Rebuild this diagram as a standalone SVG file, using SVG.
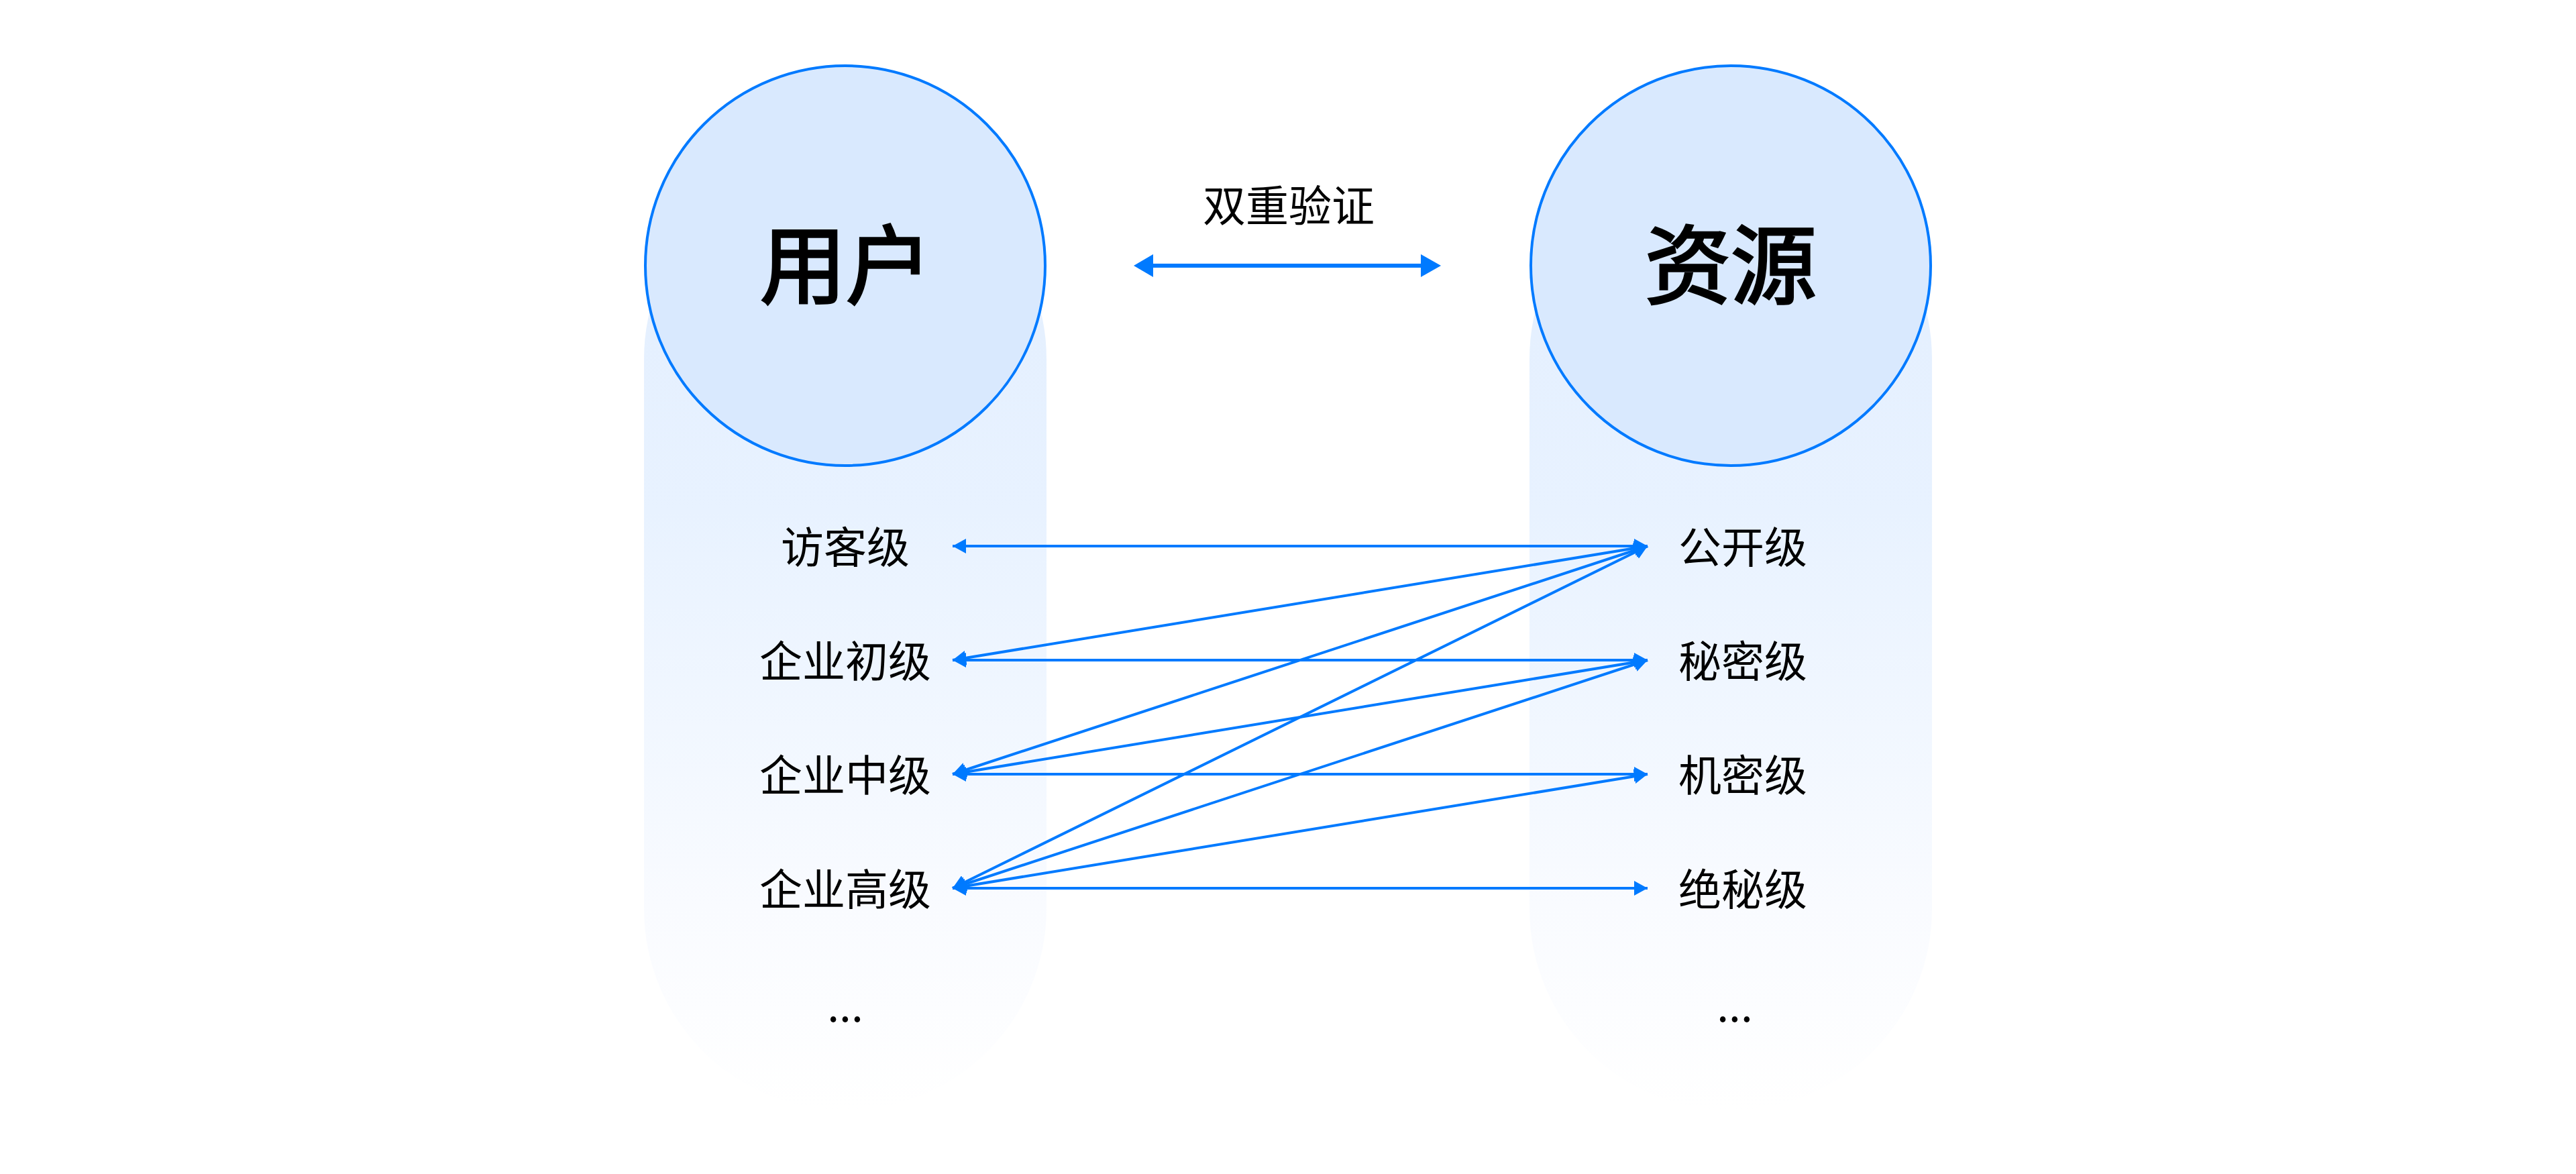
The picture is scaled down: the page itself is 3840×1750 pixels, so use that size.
<svg xmlns="http://www.w3.org/2000/svg" width="3840" height="1750" viewBox="0 0 3840 1750">
<style>
text{font-family:"Noto Sans CJK SC","Noto Sans",sans-serif;fill:#000;text-anchor:middle}
.t{font-size:64px}
.h{font-size:128px;font-weight:400;stroke:#000;stroke-width:3.5}
.c{fill:#d9e9fe;stroke:#007aff;stroke-width:4}
.l{stroke:#007aff;stroke-width:4;fill:none;marker-start:url(#as);marker-end:url(#ae)}
.m{stroke:#007aff;stroke-width:6;fill:none}
</style>
<defs>
<linearGradient id="g" gradientUnits="userSpaceOnUse" x1="0" y1="235" x2="0" y2="1655"><stop offset="0" stop-color="#e2eefe"/><stop offset="0.37" stop-color="#e8f2ff"/><stop offset="0.645" stop-color="#f3f8ff"/><stop offset="0.785" stop-color="#f9fbff"/><stop offset="1" stop-color="#fff"/></linearGradient>
<marker id="ae" markerUnits="userSpaceOnUse" markerWidth="20" markerHeight="22" refX="20" refY="11" orient="auto"><path d="M0 0L20 11L0 22Z" fill="#007aff"/></marker>
<marker id="as" markerUnits="userSpaceOnUse" markerWidth="20" markerHeight="22" refX="0" refY="11" orient="auto"><path d="M20 0L0 11L20 22Z" fill="#007aff"/></marker>
</defs>
<rect width="3840" height="1750" fill="#fff"/>
<g id="user-column">
<rect x="960" y="235" width="600" height="1420" rx="300" fill="url(#g)"/>
<circle class="c" cx="1260" cy="396" r="298"/>
<text class="h" x="1261" y="443">用户</text>
</g>
<g id="resource-column">
<rect x="2280" y="235" width="600" height="1420" rx="300" fill="url(#g)"/>
<circle class="c" cx="2580" cy="396" r="298"/>
<text class="h" x="2580" y="443">资源</text>
</g>
<g id="verify"><text class="t" x="1921" y="330">双重验证</text></g>
<g id="user-levels">
<text class="t" x="1260" y="839">访客级</text>
<text class="t" x="1260" y="1009">企业初级</text>
<text class="t" x="1260" y="1179">企业中级</text>
<text class="t" x="1260" y="1349">企业高级</text>
<text class="t" x="1260" y="1523">...</text>
</g>
<g id="resource-levels">
<text class="t" x="2598" y="839">公开级</text>
<text class="t" x="2598" y="1009">秘密级</text>
<text class="t" x="2598" y="1179">机密级</text>
<text class="t" x="2598" y="1349">绝秘级</text>
<text class="t" x="2586" y="1523">...</text>
</g>
<g id="connectors">
<path d="M1700 396H2135" class="m"/>
<path d="M1690 396L1719 379V413Z" fill="#007aff"/>
<path d="M2148 396L2118 379V413Z" fill="#007aff"/>
<line class="l" x1="1420" y1="814" x2="2456" y2="814"/>
<line class="l" x1="1420" y1="984" x2="2456" y2="814"/>
<line class="l" x1="1420" y1="984" x2="2456" y2="984"/>
<line class="l" x1="1420" y1="1154" x2="2456" y2="814"/>
<line class="l" x1="1420" y1="1154" x2="2456" y2="984"/>
<line class="l" x1="1420" y1="1154" x2="2456" y2="1154"/>
<line class="l" x1="1420" y1="1324" x2="2456" y2="814"/>
<line class="l" x1="1420" y1="1324" x2="2456" y2="984"/>
<line class="l" x1="1420" y1="1324" x2="2456" y2="1154"/>
<line class="l" x1="1420" y1="1324" x2="2456" y2="1324"/>
</g>
</svg>
